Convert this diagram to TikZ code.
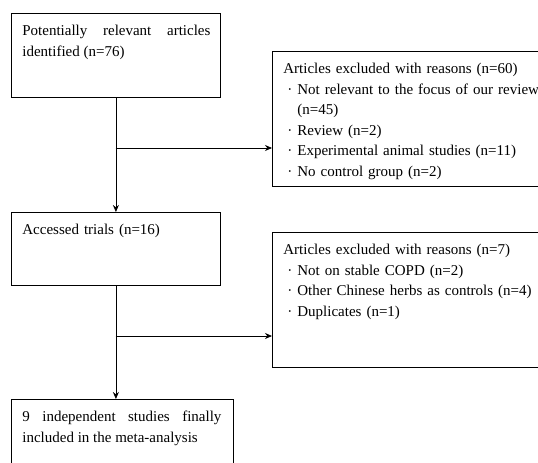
\documentclass[tikz,border=0pt]{standalone}
\usepackage{fontspec}
\setmainfont{Liberation Serif}
\usetikzlibrary{arrows.meta}
\hyphenpenalty=10000
\tikzset{>={Stealth[length=7pt,width=6pt]}}
\tikzset{box/.style={draw,line width=0.8pt,anchor=north west,inner sep=0pt}}
\tikzset{txt/.style={anchor=north west,inner xsep=11pt,inner ysep=12pt,font=\fontsize{15}{20.5}\selectfont}}
\newcommand{\bul}{\hspace*{4pt}\makebox[10pt][l]{\textperiodcentered}}

\begin{document}
\begin{tikzpicture}[x=1pt,y=-1pt,line width=0.8pt]
    \clip (0,0) rectangle (538,463);
    \fill[white] (0,0) rectangle (538,463);
    \node[box,minimum width=209pt,minimum height=84pt] (ident) at (11,13) {};
    \node[box,minimum width=209pt,minimum height=73pt] (acc) at (11,212) {};
    \node[box,minimum width=222pt,minimum height=80pt] (final) at (11,399) {};
    \node[box,minimum width=280pt,minimum height=135pt] (excl1) at (272,51) {};
    \node[box,minimum width=280pt,minimum height=135pt] (excl2) at (272,232) {};
    \node[txt,text width=188pt,align=justify] (identt) at (ident.north west) {Potentially relevant articles identified (n=76)};
    \node[txt,text width=188pt,align=left] (acct) at (acc.north west) {Accessed trials (n=16)};
    \node[txt,text width=199pt,align=justify] (finalt) at (final.north west) {9 independent studies finally included in the meta-analysis};
    \node[txt,text width=270pt,align=left] (excl1t) at (excl1.north west) {Articles excluded with reasons (n=60)\\
      \bul Not relevant to the focus of our review\\
      \hspace*{14pt}(n=45)\\
      \bul Review (n=2)\\
      \bul Experimental animal studies (n=11)\\
      \bul No control group (n=2)};
    \node[txt,text width=270pt,align=left] (excl2t) at (excl2.north west) {Articles excluded with reasons (n=7)\\
      \bul Not on stable COPD (n=2)\\
      \bul Other Chinese herbs as controls (n=4)\\
      \bul Duplicates (n=1)};
    \coordinate (br1) at (115.5,148);
    \coordinate (br2) at (115.5,336);
    \draw[->] (ident.south) -- (acc.north);
    \draw[->] (acc.south) -- (acc.south |- final.north);
    \draw[->] (br1) -- (br1 -| excl1.west);
    \draw[->] (br2) -- (br2 -| excl2.west);
  \end{tikzpicture}
\end{document}
